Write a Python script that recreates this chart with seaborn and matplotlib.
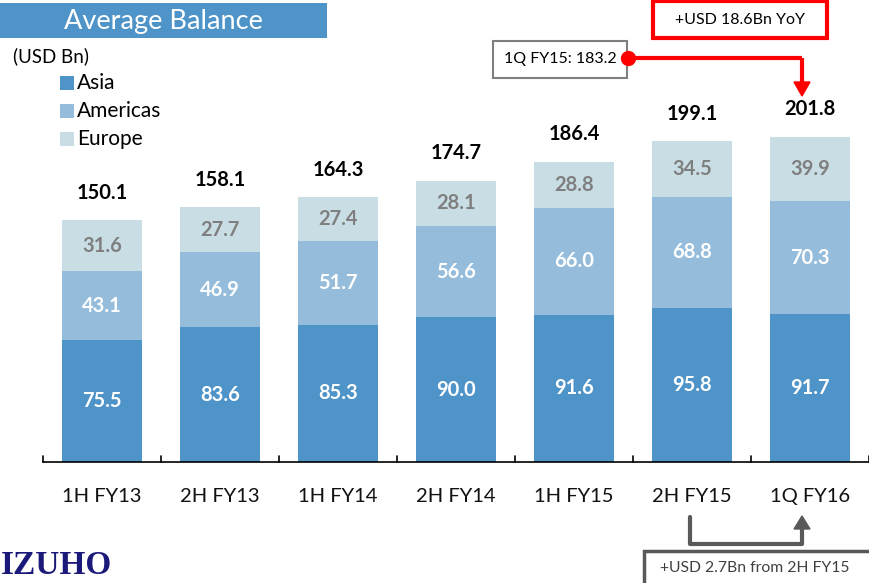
import matplotlib
matplotlib.use("Agg")
import matplotlib.pyplot as plt
import seaborn as sns
import pandas as pd
import numpy as np
from matplotlib.patches import Rectangle

categories = ["1H FY13", "2H FY13", "1H FY14", "2H FY14", "1H FY15", "2H FY15", "1Q FY16"]
asia = [75.5, 83.6, 85.3, 90.0, 91.6, 95.8, 91.7]
americas = [43.1, 46.9, 51.7, 56.6, 66.0, 68.8, 70.3]
europe = [31.6, 27.7, 27.4, 28.1, 28.8, 34.5, 39.9]
totals = [150.1, 158.1, 164.3, 174.7, 186.4, 199.1, 201.8]
prev_1q = 183.2

C_ASIA = "#4F94C8"
C_AMER = "#95BDDB"
C_EUR = "#C9DDE5"

sns.set_theme(style="white")
plt.rcParams['font.family'] = ['Lato', 'DejaVu Sans']

fig = plt.figure(figsize=(8.7, 5.83), dpi=100)
W, H = 870, 583
ax = fig.add_axes([43 / W, (H - 462) / H, 826 / W, 462 / H])

df = pd.DataFrame({"cat": categories, "asia": asia, "amer": americas, "eur": europe})
df["l2"] = df["asia"] + df["amer"]
df["l3"] = df["l2"] + df["eur"]

sns.barplot(data=df, x="cat", y="l3", color=C_EUR, width=0.68, ax=ax, saturation=1, edgecolor="none")
sns.barplot(data=df, x="cat", y="l2", color=C_AMER, width=0.68, ax=ax, saturation=1, edgecolor="none")
sns.barplot(data=df, x="cat", y="asia", color=C_ASIA, width=0.68, ax=ax, saturation=1, edgecolor="none")

ax.set_xlim(-0.5, 6.5)
ax.set_ylim(0, 287)
ax.set_xlabel("")
ax.set_ylabel("")
ax.set_yticks([])
for s in ["top", "right", "left"]:
    ax.spines[s].set_visible(False)
ax.spines["bottom"].set_color("black")
ax.spines["bottom"].set_linewidth(1.2)
ax.set_xticks(range(len(categories)))
ax.set_xticklabels(categories, fontsize=14.5, color="#111111")
ax.tick_params(axis="x", length=0, pad=19)
for b in np.arange(-0.5, 7.0, 1.0):
    ax.plot([b, b], [0, 4], color="black", lw=1.2, clip_on=False)

for i in range(len(categories)):
    ax.text(i, asia[i] / 2, f"{asia[i]:.1f}", ha="center", va="center", color="white",
            fontsize=14.5, fontweight="bold")
    ax.text(i, asia[i] + americas[i] / 2, f"{americas[i]:.1f}", ha="center", va="center",
            color="white", fontsize=14.5, fontweight="bold")
    ax.text(i, asia[i] + americas[i] + europe[i] / 2, f"{europe[i]:.1f}", ha="center", va="center",
            color="#7F7F7F", fontsize=14.5, fontweight="bold")
    ax.text(i, totals[i] + 11, f"{totals[i]:.1f}", ha="center", va="bottom", color="black",
            fontsize=14.5, fontweight="bold")

ov = fig.add_axes([0, 0, 1, 1])
ov.set_xlim(0, W)
ov.set_ylim(H, 0)
ov.axis("off")
ov.patch.set_alpha(0)

ov.add_patch(Rectangle((0, 3), 327, 35, facecolor="#4F94C8", edgecolor="none"))
ov.text(163, 21, "Average Balance", ha="center", va="center", color="white", fontsize=19.5)
ov.text(13, 56, "(USD Bn)", ha="left", va="center", color="black", fontsize=13.5)
for lbl, col, y in [("Asia", C_ASIA, 83), ("Americas", C_AMER, 111), ("Europe", C_EUR, 139)]:
    ov.add_patch(Rectangle((60, y - 7), 14, 14, facecolor=col, edgecolor="none"))
    ov.text(77, y, lbl, ha="left", va="center", color="black", fontsize=15)

ov.add_patch(Rectangle((653, 1), 174, 37, facecolor="white", edgecolor="#FF0000", lw=3))
ov.text(740, 20, "+USD 18.6Bn YoY", ha="center", va="center", color="black", fontsize=11.5)
ov.add_patch(Rectangle((493, 41), 134, 37, facecolor="white", edgecolor="#7F7F7F", lw=1.5))
ov.text(560, 59, f"1Q FY15: {prev_1q:.1f}", ha="center", va="center", color="black", fontsize=11.5)
ov.plot([628, 802], [58, 58], color="#FF0000", lw=3, solid_capstyle="butt")
ov.plot([802, 802], [58, 84], color="#FF0000", lw=3, solid_capstyle="butt")
ov.add_patch(plt.Polygon([[794, 82], [810, 82], [802, 96]], closed=True, color="#FF0000"))
ov.plot([628], [58], marker="o", markersize=10, color="#FF0000")

ov.plot([690, 690, 802, 802], [517, 544, 544, 527], color="#595959", lw=3)
ov.add_patch(plt.Polygon([[794, 529], [810, 529], [802, 516]], closed=True, color="#595959"))
ov.add_patch(Rectangle((644, 551), 240, 40, facecolor="white", edgecolor="#595959", lw=2.5))
ov.text(755, 568, "+USD 2.7Bn from 2H FY15", ha="center", va="center",
        color="#404040", fontsize=11.3)

ov.text(1, 566, "IZUHO", ha="left", va="center", color="#1B1A7A", fontsize=24,
        fontweight="bold", family=["Liberation Serif", "DejaVu Serif"])

fig.savefig("out.png", dpi=100)
